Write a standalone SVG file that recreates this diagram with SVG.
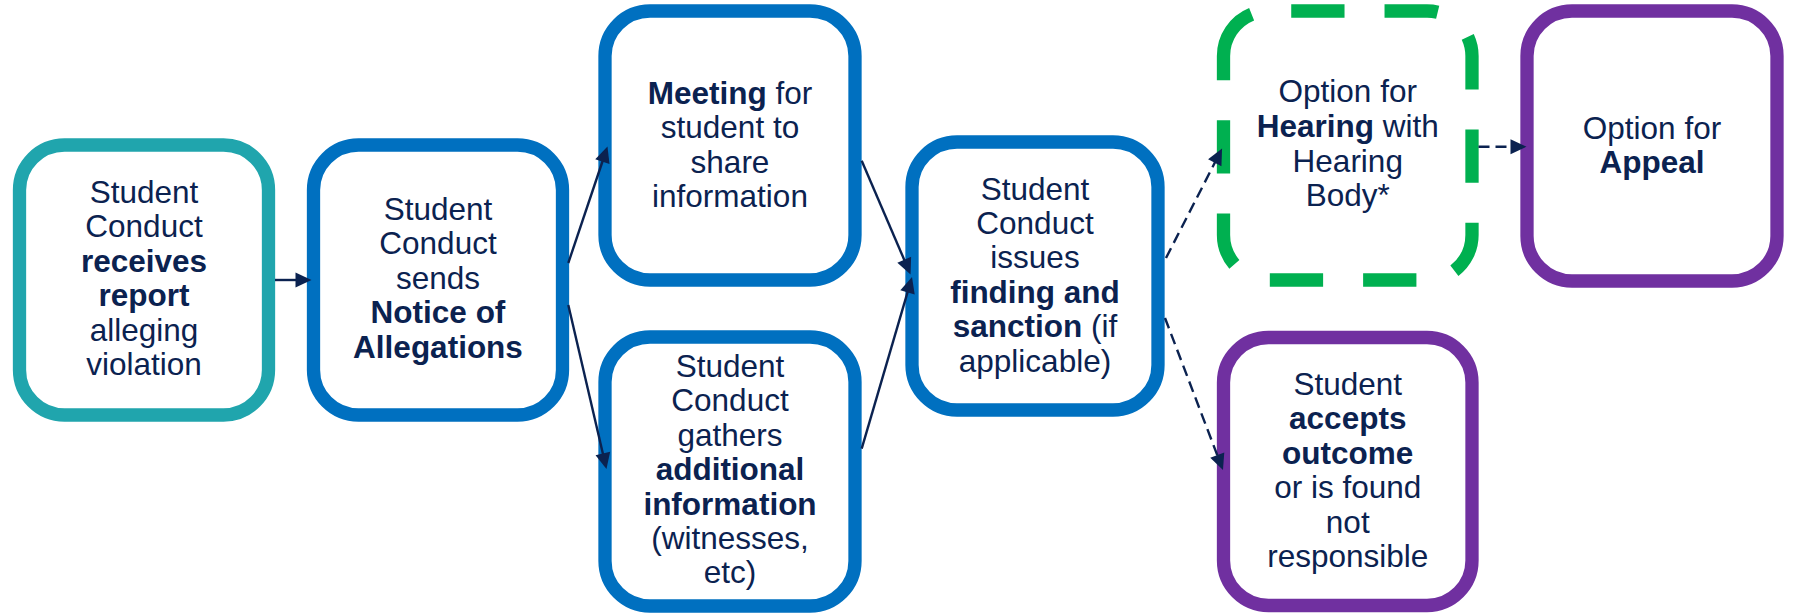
<svg xmlns="http://www.w3.org/2000/svg" width="1793" height="613" viewBox="0 0 1793 613">
<style>
.box{fill:#ffffff;stroke-width:13.3}
.teal{stroke:#20A5AD}
.blue{stroke:#0070C0}
.green{stroke:#00B050;stroke-dasharray:53.3 40;fill:#ffffff}
.purple{stroke:#7030A0}
.t{font-family:"Liberation Sans",Arial,sans-serif;font-size:31.5px;fill:#0B2250;text-anchor:middle}
.b{font-weight:bold}
.c{fill:none;stroke:#0B2250;stroke-width:2.4}
.d{stroke-dasharray:11 6}
</style>
<defs>
<marker id="ah" markerUnits="userSpaceOnUse" markerWidth="17" markerHeight="16" refX="6" refY="7.5" orient="auto" overflow="visible">
<path d="M0,0 L16,7.5 L0,15 Z" fill="#0B2250"/>
</marker>
</defs>

<g id="n1">
<rect class="box teal" x="19.5" y="145" width="249" height="270" rx="45"/>
<text class="t" x="144"><tspan x="144" y="203">Student</tspan><tspan x="144" y="237.4">Conduct</tspan><tspan x="144" y="271.8" class="b">receives</tspan><tspan x="144" y="306.2" class="b">report</tspan><tspan x="144" y="340.6">alleging</tspan><tspan x="144" y="375">violation</tspan></text>
</g>

<g id="n2">
<rect class="box blue" x="313.5" y="145" width="249" height="270" rx="45"/>
<text class="t"><tspan x="438" y="220">Student</tspan><tspan x="438" y="254.4">Conduct</tspan><tspan x="438" y="288.8">sends</tspan><tspan x="438" y="323.2" class="b">Notice of</tspan><tspan x="438" y="357.6" class="b">Allegations</tspan></text>
</g>

<g id="n3">
<rect class="box blue" x="605" y="11" width="250" height="269" rx="45"/>
<text class="t"><tspan x="730" y="104"><tspan class="b">Meeting</tspan> for</tspan><tspan x="730" y="138.4">student to</tspan><tspan x="730" y="172.8">share</tspan><tspan x="730" y="207.2">information</tspan></text>
</g>

<g id="n4">
<rect class="box blue" x="605" y="337" width="250" height="269" rx="45"/>
<text class="t"><tspan x="730" y="377">Student</tspan><tspan x="730" y="411.4">Conduct</tspan><tspan x="730" y="445.8">gathers</tspan><tspan x="730" y="480.2" class="b">additional</tspan><tspan x="730" y="514.6" class="b">information</tspan><tspan x="730" y="549">(witnesses,</tspan><tspan x="730" y="583.4">etc)</tspan></text>
</g>

<g id="n5">
<rect class="box blue" x="912" y="142" width="246" height="268" rx="45"/>
<text class="t"><tspan x="1035" y="199.5">Student</tspan><tspan x="1035" y="233.9">Conduct</tspan><tspan x="1035" y="268.3">issues</tspan><tspan x="1035" y="302.7" class="b">finding and</tspan><tspan x="1035" y="337.1"><tspan class="b">sanction</tspan> (if</tspan><tspan x="1035" y="371.5">applicable)</tspan></text>
</g>

<g id="n6">
<path class="box green" d="M1223.5 56 A45 45 0 0 1 1268.5 11 L1427 11 A45 45 0 0 1 1472 56 L1472 235 A45 45 0 0 1 1427 280 L1268.5 280 A45 45 0 0 1 1223.5 235 Z"/>
<text class="t"><tspan x="1347.75" y="102">Option for</tspan><tspan x="1347.75" y="136.8"><tspan class="b">Hearing</tspan> with</tspan><tspan x="1347.75" y="171.6">Hearing</tspan><tspan x="1347.75" y="206.4">Body*</tspan></text>
</g>

<g id="n7">
<rect class="box purple" x="1527" y="11" width="250" height="270" rx="45"/>
<text class="t"><tspan x="1652" y="138.5">Option for</tspan><tspan x="1652" y="173.2" class="b">Appeal</tspan></text>
</g>

<g id="n8">
<rect class="box purple" x="1223.5" y="337.5" width="248.5" height="268" rx="45"/>
<text class="t"><tspan x="1347.75" y="395">Student</tspan><tspan x="1347.75" y="429.4" class="b">accepts</tspan><tspan x="1347.75" y="463.8" class="b">outcome</tspan><tspan x="1347.75" y="498.2">or is found</tspan><tspan x="1347.75" y="532.6">not</tspan><tspan x="1347.75" y="567">responsible</tspan></text>
</g>

<g id="connectors">
<line class="c" x1="275" y1="280" x2="301.5" y2="280" marker-end="url(#ah)"/>
<line class="c" x1="568.3" y1="263" x2="604.3" y2="156" marker-end="url(#ah)"/>
<line class="c" x1="568.3" y1="305" x2="604.2" y2="459.3" marker-end="url(#ah)"/>
<line class="c" x1="861.7" y1="160.8" x2="906.6" y2="265.3" marker-end="url(#ah)"/>
<line class="c" x1="861.7" y1="448.6" x2="909.2" y2="286.6" marker-end="url(#ah)"/>
<line class="c d" x1="1166" y1="258" x2="1217.5" y2="157.4" marker-end="url(#ah)"/>
<line class="c d" x1="1165" y1="318" x2="1219.4" y2="460.7" marker-end="url(#ah)"/>
<line class="c d" x1="1478.5" y1="146.7" x2="1516.5" y2="146.7" marker-end="url(#ah)"/>
</g>
</svg>
